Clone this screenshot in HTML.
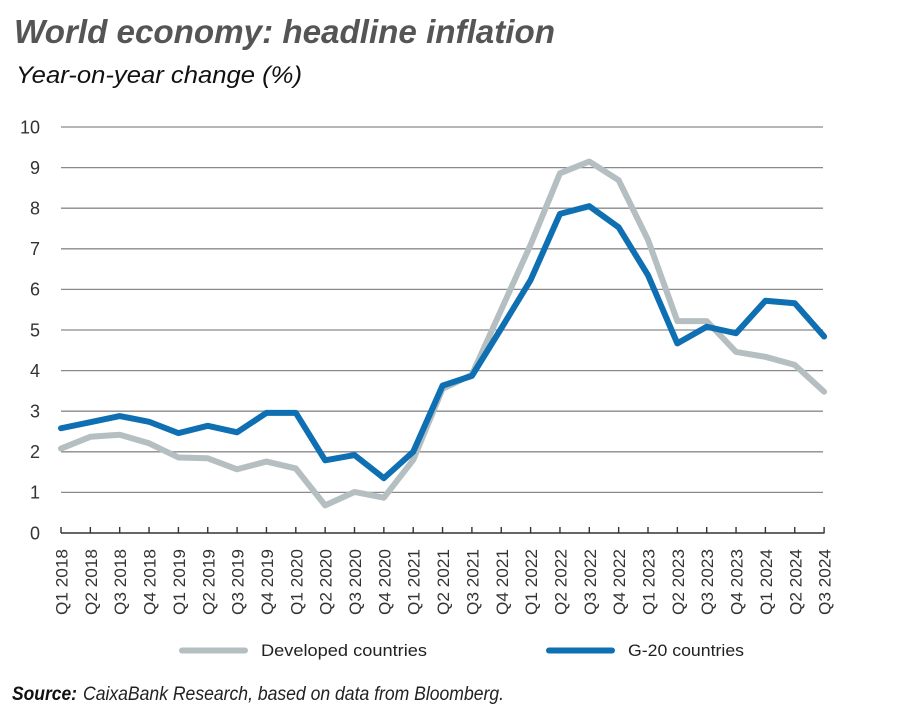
<!DOCTYPE html>
<html>
<head>
<meta charset="utf-8">
<style>
html,body{margin:0;padding:0;background:#fff;}
svg{display:block;}
</style>
</head>
<body>
<svg width="900" height="714" viewBox="0 0 900 714" xmlns="http://www.w3.org/2000/svg" font-family="'Liberation Sans', sans-serif">
<rect width="900" height="714" fill="#fff"/>
<text x="14" y="43" font-size="33" font-weight="bold" font-style="italic" fill="#555" textLength="541" lengthAdjust="spacingAndGlyphs">World economy: headline inflation</text>
<text x="16" y="83" font-size="24" font-style="italic" fill="#111" textLength="286" lengthAdjust="spacingAndGlyphs">Year-on-year change (%)</text>

<g stroke="#8a8a8a" stroke-width="1.3">
<line x1="61" y1="127" x2="823" y2="127"/>
<line x1="61" y1="167.6" x2="823" y2="167.6"/>
<line x1="61" y1="208.2" x2="823" y2="208.2"/>
<line x1="61" y1="248.8" x2="823" y2="248.8"/>
<line x1="61" y1="289.4" x2="823" y2="289.4"/>
<line x1="61" y1="330" x2="823" y2="330"/>
<line x1="61" y1="370.6" x2="823" y2="370.6"/>
<line x1="61" y1="411.2" x2="823" y2="411.2"/>
<line x1="61" y1="451.8" x2="823" y2="451.8"/>
<line x1="61" y1="492.4" x2="823" y2="492.4"/>
</g>

<g font-size="18" fill="#333" text-anchor="end">
<text x="40" y="133.5">10</text>
<text x="40" y="174">9</text>
<text x="40" y="214.5">8</text>
<text x="40" y="255">7</text>
<text x="40" y="295.5">6</text>
<text x="40" y="336.5">5</text>
<text x="40" y="377">4</text>
<text x="40" y="417.5">3</text>
<text x="40" y="458">2</text>
<text x="40" y="498.5">1</text>
<text x="40" y="539.5">0</text>
</g>

<line x1="61" y1="533" x2="824.5" y2="533" stroke="#333" stroke-width="1.6"/>
<g stroke="#333" stroke-width="1.4">
<line x1="61" y1="527" x2="61" y2="533"/>
<line x1="90.35" y1="527" x2="90.35" y2="533"/>
<line x1="119.7" y1="527" x2="119.7" y2="533"/>
<line x1="149.05" y1="527" x2="149.05" y2="533"/>
<line x1="178.4" y1="527" x2="178.4" y2="533"/>
<line x1="207.75" y1="527" x2="207.75" y2="533"/>
<line x1="237.1" y1="527" x2="237.1" y2="533"/>
<line x1="266.45" y1="527" x2="266.45" y2="533"/>
<line x1="295.8" y1="527" x2="295.8" y2="533"/>
<line x1="325.15" y1="527" x2="325.15" y2="533"/>
<line x1="354.5" y1="527" x2="354.5" y2="533"/>
<line x1="383.85" y1="527" x2="383.85" y2="533"/>
<line x1="413.2" y1="527" x2="413.2" y2="533"/>
<line x1="442.55" y1="527" x2="442.55" y2="533"/>
<line x1="471.9" y1="527" x2="471.9" y2="533"/>
<line x1="501.25" y1="527" x2="501.25" y2="533"/>
<line x1="530.6" y1="527" x2="530.6" y2="533"/>
<line x1="559.95" y1="527" x2="559.95" y2="533"/>
<line x1="589.3" y1="527" x2="589.3" y2="533"/>
<line x1="618.65" y1="527" x2="618.65" y2="533"/>
<line x1="648" y1="527" x2="648" y2="533"/>
<line x1="677.35" y1="527" x2="677.35" y2="533"/>
<line x1="706.7" y1="527" x2="706.7" y2="533"/>
<line x1="736.05" y1="527" x2="736.05" y2="533"/>
<line x1="765.4" y1="527" x2="765.4" y2="533"/>
<line x1="794.75" y1="527" x2="794.75" y2="533"/>
<line x1="824.1" y1="527" x2="824.1" y2="533"/>
</g>

<g font-size="17" fill="#333" text-anchor="end">
<text transform="translate(67.5,549) rotate(-90)" textLength="66" lengthAdjust="spacingAndGlyphs">Q1 2018</text>
<text transform="translate(96.85,549) rotate(-90)" textLength="66" lengthAdjust="spacingAndGlyphs">Q2 2018</text>
<text transform="translate(126.2,549) rotate(-90)" textLength="66" lengthAdjust="spacingAndGlyphs">Q3 2018</text>
<text transform="translate(155.55,549) rotate(-90)" textLength="66" lengthAdjust="spacingAndGlyphs">Q4 2018</text>
<text transform="translate(184.9,549) rotate(-90)" textLength="66" lengthAdjust="spacingAndGlyphs">Q1 2019</text>
<text transform="translate(214.25,549) rotate(-90)" textLength="66" lengthAdjust="spacingAndGlyphs">Q2 2019</text>
<text transform="translate(243.6,549) rotate(-90)" textLength="66" lengthAdjust="spacingAndGlyphs">Q3 2019</text>
<text transform="translate(272.95,549) rotate(-90)" textLength="66" lengthAdjust="spacingAndGlyphs">Q4 2019</text>
<text transform="translate(302.3,549) rotate(-90)" textLength="66" lengthAdjust="spacingAndGlyphs">Q1 2020</text>
<text transform="translate(331.65,549) rotate(-90)" textLength="66" lengthAdjust="spacingAndGlyphs">Q2 2020</text>
<text transform="translate(361,549) rotate(-90)" textLength="66" lengthAdjust="spacingAndGlyphs">Q3 2020</text>
<text transform="translate(390.35,549) rotate(-90)" textLength="66" lengthAdjust="spacingAndGlyphs">Q4 2020</text>
<text transform="translate(419.7,549) rotate(-90)" textLength="66" lengthAdjust="spacingAndGlyphs">Q1 2021</text>
<text transform="translate(449.05,549) rotate(-90)" textLength="66" lengthAdjust="spacingAndGlyphs">Q2 2021</text>
<text transform="translate(478.4,549) rotate(-90)" textLength="66" lengthAdjust="spacingAndGlyphs">Q3 2021</text>
<text transform="translate(507.75,549) rotate(-90)" textLength="66" lengthAdjust="spacingAndGlyphs">Q4 2021</text>
<text transform="translate(537.1,549) rotate(-90)" textLength="66" lengthAdjust="spacingAndGlyphs">Q1 2022</text>
<text transform="translate(566.45,549) rotate(-90)" textLength="66" lengthAdjust="spacingAndGlyphs">Q2 2022</text>
<text transform="translate(595.8,549) rotate(-90)" textLength="66" lengthAdjust="spacingAndGlyphs">Q3 2022</text>
<text transform="translate(625.15,549) rotate(-90)" textLength="66" lengthAdjust="spacingAndGlyphs">Q4 2022</text>
<text transform="translate(654.5,549) rotate(-90)" textLength="66" lengthAdjust="spacingAndGlyphs">Q1 2023</text>
<text transform="translate(683.85,549) rotate(-90)" textLength="66" lengthAdjust="spacingAndGlyphs">Q2 2023</text>
<text transform="translate(713.2,549) rotate(-90)" textLength="66" lengthAdjust="spacingAndGlyphs">Q3 2023</text>
<text transform="translate(742.55,549) rotate(-90)" textLength="66" lengthAdjust="spacingAndGlyphs">Q4 2023</text>
<text transform="translate(771.9,549) rotate(-90)" textLength="66" lengthAdjust="spacingAndGlyphs">Q1 2024</text>
<text transform="translate(801.25,549) rotate(-90)" textLength="66" lengthAdjust="spacingAndGlyphs">Q2 2024</text>
<text transform="translate(830.6,549) rotate(-90)" textLength="66" lengthAdjust="spacingAndGlyphs">Q3 2024</text>
</g>

<polyline fill="none" stroke="#b5bfc1" stroke-width="6" stroke-linejoin="round" stroke-linecap="round"
points="61,448.55 90.35,436.78 119.7,434.75 149.05,443.27 178.4,457.48 207.75,458.3 237.1,469.26 266.45,461.54 295.8,468.45 325.15,505.39 354.5,491.99 383.85,497.68 413.2,459.92 442.55,388.87 471.9,374.66 501.25,309.7 530.6,244.74 559.95,173.28 589.3,161.51 618.65,180.19 648,239.87 677.35,321.07 706.7,321.07 736.05,351.92 765.4,356.8 794.75,364.92 824.1,391.71"/>
<polyline fill="none" stroke="#0e6fb2" stroke-width="6" stroke-linejoin="round" stroke-linecap="round"
points="61,428.25 90.35,422.16 119.7,416.07 149.05,421.76 178.4,433.12 207.75,425.82 237.1,432.31 266.45,412.82 295.8,412.82 325.15,460.33 354.5,455.05 383.85,478.19 413.2,451.8 442.55,385.62 471.9,375.88 501.25,328.38 530.6,280.06 559.95,213.88 589.3,206.17 618.65,227.28 648,275.19 677.35,343.4 706.7,326.75 736.05,333.25 765.4,300.77 794.75,303.2 824.1,336.5"/>

<line x1="182" y1="650.5" x2="245" y2="650.5" stroke="#b5bfc1" stroke-width="6" stroke-linecap="round"/>
<text x="261" y="656" font-size="17" fill="#222" textLength="166" lengthAdjust="spacingAndGlyphs">Developed countries</text>
<line x1="549" y1="650.5" x2="612" y2="650.5" stroke="#0e6fb2" stroke-width="6" stroke-linecap="round"/>
<text x="628" y="656" font-size="17" fill="#222" textLength="116" lengthAdjust="spacingAndGlyphs">G-20 countries</text>

<text x="12" y="700" font-size="19" font-weight="bold" font-style="italic" fill="#111" textLength="65" lengthAdjust="spacingAndGlyphs">Source:</text>
<text x="83" y="700" font-size="19" font-style="italic" fill="#222" textLength="421" lengthAdjust="spacingAndGlyphs">CaixaBank Research, based on data from Bloomberg.</text>
</svg>
</body>
</html>
